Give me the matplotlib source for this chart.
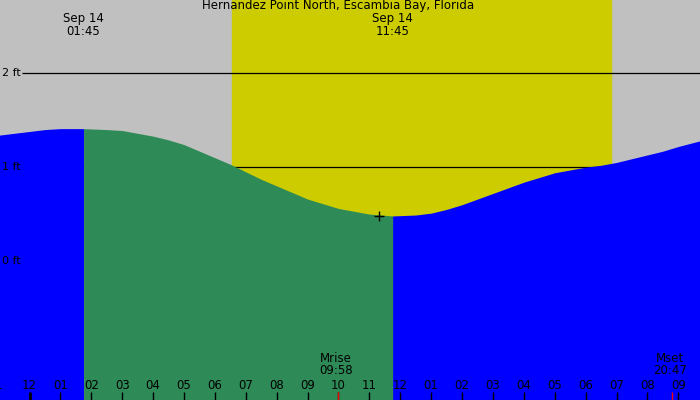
import numpy as np
from matplotlib import pyplot as plt

# tide heights (ft), hours from midnight Sep 14
hours = [-1, -0.5, 0, 0.5, 1, 1.75, 2.5, 3, 3.5, 4, 4.5, 5, 5.5, 6, 6.5, 7, 7.5, 8, 8.5, 9, 9.5, 10,
         10.5, 11, 11.75, 12.5, 13, 13.5, 14, 14.5, 15, 15.5, 16, 16.5, 17, 17.5, 18, 18.5, 19,
         19.5, 20, 20.5, 21, 21.7]
height = [1.34, 1.36, 1.38, 1.40, 1.41, 1.41, 1.40, 1.39, 1.36, 1.33, 1.29, 1.24, 1.17, 1.10, 1.03,
          0.95, 0.87, 0.80, 0.73, 0.66, 0.61, 0.56, 0.53, 0.50, 0.48, 0.49, 0.51, 0.55, 0.60, 0.66,
          0.72, 0.78, 0.84, 0.89, 0.94, 0.97, 1.00, 1.02, 1.05, 1.09, 1.13, 1.17, 1.22, 1.28]
high_t, low_t = 1.75, 11.75
sunrise, sunset = 6.55, 18.82
moonrise, moonset = 9.97, 20.78
tick_labels = ["1", "12", "01", "02", "03", "04", "05", "06", "07", "08", "09", "10", "11",
               "12", "01", "02", "03", "04", "05", "06", "07", "08", "09"]
tick_hours = list(range(-1, 22))

fig = plt.figure(figsize=(7, 4), dpi=100)
ax = fig.add_axes([0, 0, 1, 1])
x0, x1 = -0.955, 21.7
y0, y1 = -1.48, 2.78
ax.set_xlim(x0, x1)
ax.set_ylim(y0, y1)
ax.axis("off")
ax.add_patch(plt.Rectangle((x0, y0), x1 - x0, y1 - y0, color="#c0c0c0", zorder=0))
ax.axvspan(sunrise, sunset, color="#cccc00", zorder=1)

for lvl in [0, 1, 2]:
    ax.hlines(lvl, x0 + 0.7, x1, color="black", lw=0.9, zorder=2)
    ax.text(x0 + 0.05, lvl, "%d ft" % lvl, va="center", ha="left", fontsize=8, zorder=6)

t = np.array(hours)
h = np.array(height)
ax.fill_between(t, y0, h, where=(t <= high_t), color="#0000ff", lw=0, zorder=3)
ax.fill_between(t, y0, h, where=(t >= low_t), color="#0000ff", lw=0, zorder=3)
ax.fill_between(t, y0, h, where=(t >= high_t) & (t <= low_t), color="#2e8b57", lw=0, zorder=3)
ax.plot(low_t - 0.45, 0.48, marker="+", color="black", ms=7, zorder=5)

ax.text(10, 2.79, "Hernandez Point North, Escambia Bay, Florida", ha="center", va="top", fontsize=8.5)
for tt in [high_t, low_t]:
    ax.text(tt, 2.65, "Sep 14\n%02d:45" % int(tt), ha="center", va="top", fontsize=8.5, linespacing=0.95)

tick_len = 0.085
for th, lab in zip(tick_hours, tick_labels):
    ax.vlines(th, y0, y0 + tick_len, color="black", lw=2 if th == 0 else 1, zorder=6)
    ax.text(th, y0 + 0.09, lab, ha="center", va="bottom", fontsize=8.5, zorder=6)
for mt, name in [(moonrise, "Mrise\n09:58"), (moonset, "Mset\n20:47")]:
    ax.vlines(mt, y0, y0 + tick_len, color="red", lw=1, zorder=7)
    ax.text(mt - 0.05, y0 + 0.24, name, ha="center", va="bottom", fontsize=8.5, linespacing=0.95, zorder=6)

fig.savefig("out.png", dpi=100)
